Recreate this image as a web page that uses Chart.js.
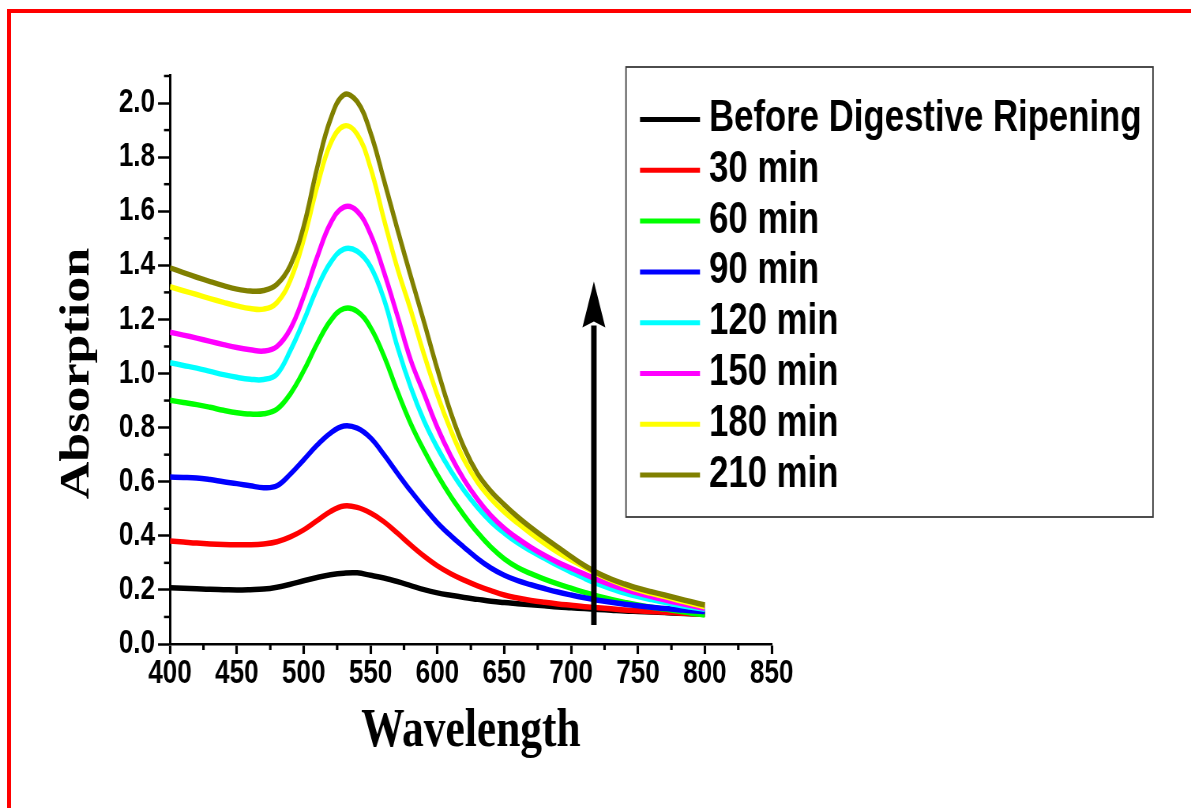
<!DOCTYPE html>
<html>
<head>
<meta charset="utf-8">
<title>Absorption spectra during digestive ripening</title>
<script src="https://cdn.jsdelivr.net/npm/chart.js@4.4.1/dist/chart.umd.min.js"></script>
<style>
  html, body { margin: 0; padding: 0; background: #fff; }
  #wrap { position: relative; width: 1191px; height: 808px; overflow: hidden; background: #fff; }
  #frame {
    position: absolute; left: 7px; top: 9px; right: 0; bottom: 0;
    border-top: 4.5px solid #ff0000; border-left: 4.5px solid #ff0000;
    pointer-events: none;
  }
</style>
</head>
<body>
<div id="wrap">
  <canvas id="plot" width="1508" height="808" style="display:block;width:1191px;height:808px"></canvas>
  <div id="frame"></div>
</div>
<script>
// Wavelength grid (nm) shared by every spectrum, 400-800 nm in 10 nm steps
const wavelengths = [400, 410, 420, 430, 440, 450, 460, 470, 480, 490, 500, 510, 520, 530, 540, 550, 560, 570, 580, 590, 600,
                     610, 620, 630, 640, 650, 660, 670, 680, 690, 700, 710, 720, 730, 740, 750, 760, 770, 780, 790, 800];

// Absorption values for each sampling time
const beforeRipening = [0.208, 0.206, 0.204, 0.202, 0.201, 0.200, 0.201, 0.203, 0.210, 0.221, 0.234, 0.246, 0.256, 0.262, 0.263, 0.254, 0.244, 0.231, 0.216, 0.201, 0.189,
                        0.180, 0.172, 0.165, 0.158, 0.153, 0.149, 0.145, 0.141, 0.137, 0.134, 0.131, 0.128, 0.125, 0.122, 0.120, 0.118, 0.116, 0.114, 0.112, 0.110];
const min30  = [0.381, 0.377, 0.373, 0.370, 0.368, 0.367, 0.367, 0.370, 0.378, 0.396, 0.422, 0.456, 0.490, 0.510, 0.505, 0.484, 0.452, 0.410, 0.366, 0.325, 0.289,
                0.260, 0.236, 0.215, 0.197, 0.181, 0.170, 0.161, 0.154, 0.148, 0.143, 0.138, 0.134, 0.130, 0.126, 0.123, 0.120, 0.117, 0.115, 0.112, 0.110];
const min60  = [0.901, 0.893, 0.885, 0.875, 0.864, 0.855, 0.850, 0.851, 0.868, 0.925, 1.010, 1.110, 1.195, 1.240, 1.230, 1.170, 1.065, 0.935, 0.815, 0.715, 0.625,
                0.545, 0.475, 0.412, 0.358, 0.315, 0.283, 0.260, 0.240, 0.222, 0.206, 0.191, 0.177, 0.165, 0.154, 0.144, 0.136, 0.129, 0.122, 0.114, 0.107];
const min90  = [0.617, 0.616, 0.614, 0.608, 0.600, 0.593, 0.585, 0.578, 0.585, 0.628, 0.681, 0.735, 0.780, 0.806, 0.798, 0.762, 0.700, 0.632, 0.566, 0.505, 0.448,
                0.400, 0.357, 0.316, 0.281, 0.254, 0.234, 0.219, 0.205, 0.192, 0.181, 0.171, 0.162, 0.154, 0.147, 0.141, 0.136, 0.131, 0.127, 0.123, 0.120];
const min120 = [1.040, 1.030, 1.020, 1.008, 0.996, 0.986, 0.979, 0.978, 0.998, 1.085, 1.195, 1.315, 1.410, 1.460, 1.452, 1.395, 1.275, 1.100, 0.950, 0.825, 0.725,
                0.640, 0.567, 0.505, 0.452, 0.410, 0.374, 0.344, 0.317, 0.290, 0.266, 0.243, 0.222, 0.204, 0.188, 0.175, 0.164, 0.154, 0.144, 0.136, 0.128];
const min150 = [1.153, 1.142, 1.131, 1.119, 1.107, 1.096, 1.088, 1.083, 1.100, 1.165, 1.285, 1.430, 1.555, 1.615, 1.600, 1.515, 1.375, 1.215, 1.050, 0.925, 0.800,
                0.695, 0.607, 0.535, 0.475, 0.428, 0.390, 0.357, 0.328, 0.302, 0.280, 0.258, 0.237, 0.219, 0.203, 0.188, 0.175, 0.163, 0.152, 0.142, 0.132];
const min180 = [1.321, 1.306, 1.292, 1.277, 1.263, 1.250, 1.240, 1.238, 1.262, 1.345, 1.495, 1.690, 1.850, 1.915, 1.885, 1.760, 1.570, 1.390, 1.235, 1.070, 0.920,
                0.790, 0.680, 0.598, 0.537, 0.488, 0.447, 0.408, 0.372, 0.339, 0.311, 0.284, 0.258, 0.236, 0.217, 0.200, 0.187, 0.175, 0.162, 0.150, 0.138];
const min210 = [1.391, 1.373, 1.356, 1.340, 1.325, 1.312, 1.305, 1.307, 1.330, 1.400, 1.545, 1.760, 1.940, 2.030, 2.005, 1.890, 1.715, 1.535, 1.360, 1.190, 1.015,
                0.855, 0.725, 0.630, 0.565, 0.515, 0.470, 0.430, 0.393, 0.358, 0.323, 0.290, 0.262, 0.240, 0.222, 0.206, 0.193, 0.181, 0.168, 0.156, 0.144];

const seriesLabels = ['Before Digestive Ripening', '30 min', '60 min', '90 min', '120 min', '150 min', '180 min', '210 min'];
const seriesValues = [beforeRipening, min30, min60, min90, min120, min150, min180, min210];
const seriesColors = ['#000000', '#ff0000', '#00ff00', '#0000ff', '#00ffff', '#ff00ff', '#ffff00', '#808000'];

// Axis tick labels and titles
const xTickLabels = ['400', '450', '500', '550', '600', '650', '700', '750', '800', '850'];
const yTickLabels = ['0.0', '0.2', '0.4', '0.6', '0.8', '1.0', '1.2', '1.4', '1.6', '1.8', '2.0'];
const xTitle = 'Wavelength';
const yTitle = 'Absorption';

// Arrow marking the growth of the plasmon band (wavelength, absorption from -> to)
const arrowAt = { x: 717, from: 0.07, to: 1.34 };

// The canvas is drawn wider than it is shown, which gives the narrow, tall lettering.
const CANVAS_W = 1508;
const SQUEEZE = 1191 / CANVAS_W;
const ux = px => px / SQUEEZE;          // on-screen px -> canvas px (horizontal)

const PLOT_LEFT = ux(170), PLOT_RIGHT = ux(771.7), PLOT_TOP = 76, PLOT_BOTTOM = 644;

const SANS = "'Liberation Sans', Arial, sans-serif";
const SERIF = "'Liberation Serif', 'Times New Roman', serif";

// Short ticks half-way between the labelled ones
const minorTicks = {
  id: 'minorTicks',
  afterDraw(chart) {
    const { ctx, scales: { x, y } } = chart;
    ctx.save();
    ctx.strokeStyle = '#000';
    const xs = x.ticks.map(t => t.value);
    const xStep = xs[1] - xs[0];
    ctx.lineWidth = ux(2.5);
    for (let v = xs[0] + xStep / 2; v <= x.max + 1e-9; v += xStep) {
      const px = x.getPixelForValue(v);
      ctx.beginPath(); ctx.moveTo(px, y.bottom); ctx.lineTo(px, y.bottom + 6); ctx.stroke();
    }
    const ys = y.ticks.map(t => t.value);
    const yStep = ys[1] - ys[0];
    ctx.lineWidth = 2.5;
    for (let v = ys[0] + yStep / 2; v <= y.max + 1e-9; v += yStep) {
      const py = y.getPixelForValue(v);
      ctx.beginPath(); ctx.moveTo(x.left - ux(6), py); ctx.lineTo(x.left, py); ctx.stroke();
    }
    ctx.restore();
  }
};

// Vertical axis title, centred on the lower part of the axis
const yAxisTitle = {
  id: 'yAxisTitle',
  afterDraw(chart) {
    const { ctx } = chart;
    ctx.save();
    ctx.translate(ux(78), 373.5);
    ctx.rotate(-Math.PI / 2);
    ctx.font = `bold 52px ${SERIF}`;
    ctx.fillStyle = '#000';
    ctx.textAlign = 'center';
    ctx.textBaseline = 'middle';
    ctx.fillText(yTitle, 0, 0);
    ctx.restore();
  }
};

// Upward arrow drawn in data coordinates
const growthArrow = {
  id: 'growthArrow',
  afterDatasetsDraw(chart) {
    const { ctx, scales: { x, y } } = chart;
    const px = x.getPixelForValue(arrowAt.x);
    const yBottom = y.getPixelForValue(arrowAt.from);
    const yTip = y.getPixelForValue(arrowAt.to);
    const headLen = 46, headHalf = ux(11.5);
    ctx.save();
    ctx.strokeStyle = '#000';
    ctx.fillStyle = '#000';
    ctx.lineWidth = ux(5.5);
    ctx.beginPath(); ctx.moveTo(px, yBottom); ctx.lineTo(px, yTip + headLen - 2); ctx.stroke();
    ctx.beginPath();
    ctx.moveTo(px, yTip);
    ctx.lineTo(px + headHalf, yTip + headLen);
    ctx.lineTo(px, yTip + headLen - 6);
    ctx.lineTo(px - headHalf, yTip + headLen);
    ctx.closePath(); ctx.fill();
    ctx.restore();
  }
};

// Framed legend to the right of the plot
const legendBox = {
  id: 'legendBox',
  afterDraw(chart) {
    const { ctx } = chart;
    const left = ux(626), right = ux(1153), top = 67, bottom = 517;
    ctx.save();
    ctx.strokeStyle = '#3a3a3a';
    ctx.lineWidth = 1.8;
    ctx.strokeRect(left, top, right - left, bottom - top);
    const rowY0 = 119.5, rowGap = 50.8;
    ctx.font = `bold 44px ${SANS}`;
    ctx.textBaseline = 'alphabetic';
    ctx.textAlign = 'left';
    chart.data.datasets.forEach((ds, i) => {
      const yRow = rowY0 + i * rowGap;
      ctx.strokeStyle = ds.borderColor;
      ctx.lineWidth = 5;
      ctx.beginPath(); ctx.moveTo(ux(640), yRow); ctx.lineTo(ux(700), yRow); ctx.stroke();
      ctx.fillStyle = '#000';
      ctx.fillText(ds.label, ux(709), yRow + 11.5);
    });
    ctx.restore();
  }
};

const datasets = seriesLabels.map((label, i) => ({
  label,
  data: wavelengths.map((w, k) => ({ x: w, y: seriesValues[i][k] })),
  borderColor: seriesColors[i],
  backgroundColor: seriesColors[i],
  borderWidth: 5.5,
  pointRadius: 0,
  fill: false,
  tension: 0.4,
  order: seriesLabels.length - 1 - i
}));

new Chart(document.getElementById('plot'), {
  type: 'line',
  data: { datasets },
  options: {
    responsive: false,
    animation: false,
    devicePixelRatio: 1,
    layout: { padding: { left: 0, top: PLOT_TOP, right: CANVAS_W - PLOT_RIGHT, bottom: 0 } },
    plugins: { legend: { display: false }, tooltip: { enabled: false } },
    scales: {
      x: {
        type: 'linear', position: 'bottom', min: 400, max: 850,
        afterFit(s) { s.height = 808 - PLOT_BOTTOM; },
        ticks: {
          stepSize: 50, autoSkip: false, maxRotation: 0, padding: 0, color: '#000',
          font: { family: SANS, weight: 'bold', size: 33 },
          callback: (v, i) => xTickLabels[i]
        },
        grid: { drawOnChartArea: false, drawTicks: true, tickLength: 10, tickWidth: ux(2.5), tickColor: '#000' },
        border: { display: true, color: '#000', width: 2.5 },
        title: { display: true, text: xTitle, color: '#000', font: { family: SERIF, weight: 'bold', size: 55 }, padding: { top: 0, bottom: 43.5 } }
      },
      y: {
        type: 'linear', position: 'left', min: 0, max: 2.1,
        afterFit(s) { s.width = PLOT_LEFT; },
        ticks: {
          stepSize: 0.2, includeBounds: false, padding: 3.7, color: '#000',
          font: { family: SANS, weight: 'bold', size: 33 },
          callback: (v, i) => yTickLabels[i]
        },
        grid: { drawOnChartArea: false, drawTicks: true, tickLength: ux(12), tickWidth: 2.5, tickColor: '#000' },
        border: { display: true, color: '#000', width: ux(2.4) }
      }
    }
  },
  plugins: [minorTicks, yAxisTitle, growthArrow, legendBox]
});
</script>
</body>
</html>
